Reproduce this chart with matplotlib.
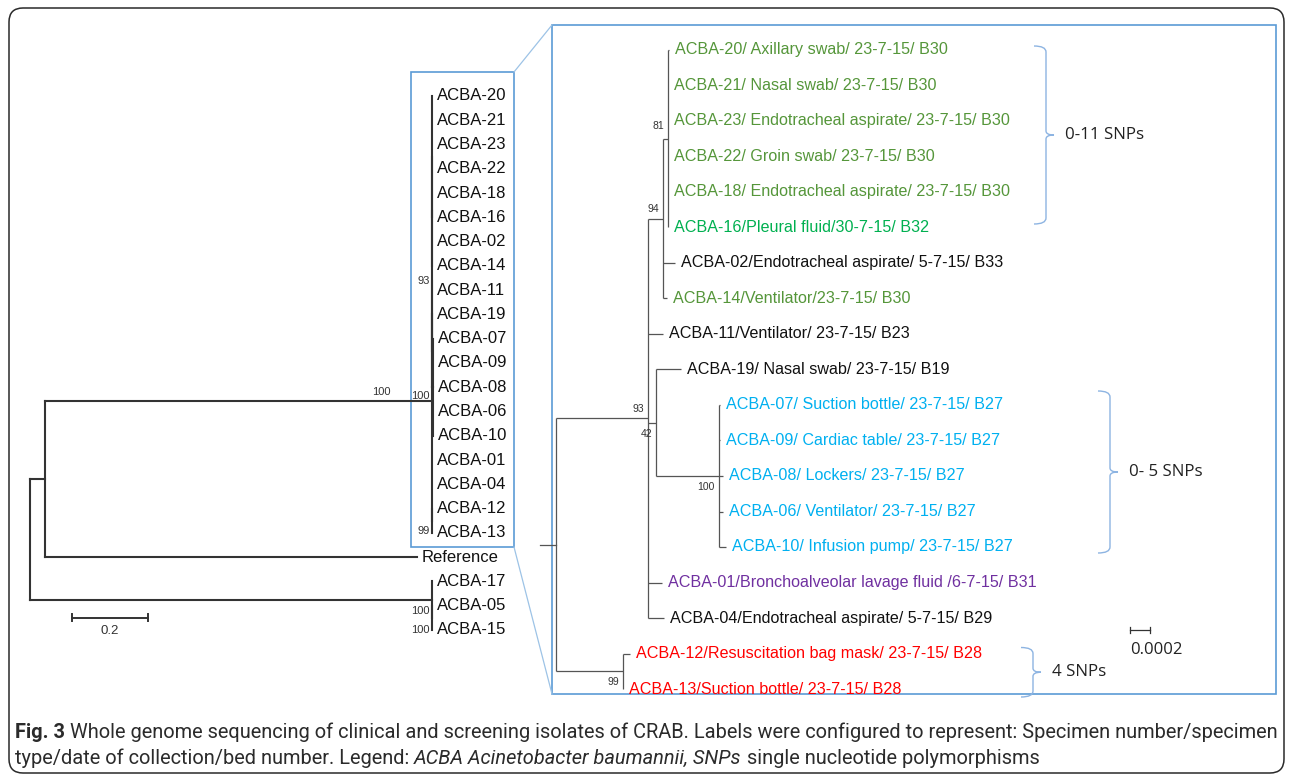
import matplotlib
matplotlib.use("Agg")
import matplotlib.pyplot as plt
from matplotlib.patches import FancyBboxPatch, Rectangle, PathPatch
from matplotlib.path import Path
from matplotlib.collections import LineCollection

W, H = 1292, 780

# overview tree (left), branch lengths in substitutions/site
left_newick = ("((((((ACBA-20:0,ACBA-21:0,ACBA-23:0,ACBA-22:0,ACBA-18:0,ACBA-16:0):0,"
               "ACBA-02:0,ACBA-14:0):0,ACBA-11:0,(ACBA-19:0,(ACBA-07:0,ACBA-09:0,ACBA-08:0,"
               "ACBA-06:0,ACBA-10:0):0.0026):0)93:0,ACBA-01:0,ACBA-04:0,"
               "(ACBA-12:0,ACBA-13:0)99:0)100:1.0184,Reference:0.979):0.0395,"
               "(ACBA-17:0,(ACBA-05:0,ACBA-15:0)100:0)100:1.058);")

# zoomed tree of the ACBA clade (right)
right_newick = ("((((ACBA-20:0.00001,ACBA-21:0,ACBA-23:0,ACBA-22:0,ACBA-18:0,ACBA-16:0)81:0.00005,"
                "ACBA-02:0.00012,ACBA-14:0.00004)94:0.00015,ACBA-11:0.00015,"
                "(ACBA-19:0.00025,(ACBA-07:0.00001,ACBA-09:0.00001,ACBA-08:0.00004,"
                "ACBA-06:0.00004,ACBA-10:0.00007)100:0.00063)42:0.00008,"
                "ACBA-01:0.00014,ACBA-04:0.00016)93:0.00092,"
                "(ACBA-12:0.00007,ACBA-13:0)99:0.00067);")

isolate_info = {
    "ACBA-20": "ACBA-20/ Axillary swab/ 23-7-15/ B30",
    "ACBA-21": "ACBA-21/ Nasal swab/ 23-7-15/ B30",
    "ACBA-23": "ACBA-23/ Endotracheal aspirate/ 23-7-15/ B30",
    "ACBA-22": "ACBA-22/ Groin swab/ 23-7-15/ B30",
    "ACBA-18": "ACBA-18/ Endotracheal aspirate/ 23-7-15/ B30",
    "ACBA-16": "ACBA-16/Pleural fluid/30-7-15/ B32",
    "ACBA-02": "ACBA-02/Endotracheal aspirate/ 5-7-15/ B33",
    "ACBA-14": "ACBA-14/Ventilator/23-7-15/ B30",
    "ACBA-11": "ACBA-11/Ventilator/ 23-7-15/ B23",
    "ACBA-19": "ACBA-19/ Nasal swab/ 23-7-15/ B19",
    "ACBA-07": "ACBA-07/ Suction bottle/ 23-7-15/ B27",
    "ACBA-09": "ACBA-09/ Cardiac table/ 23-7-15/ B27",
    "ACBA-08": "ACBA-08/ Lockers/ 23-7-15/ B27",
    "ACBA-06": "ACBA-06/ Ventilator/ 23-7-15/ B27",
    "ACBA-10": "ACBA-10/ Infusion pump/ 23-7-15/ B27",
    "ACBA-01": "ACBA-01/Bronchoalveolar lavage fluid /6-7-15/ B31",
    "ACBA-04": "ACBA-04/Endotracheal aspirate/ 5-7-15/ B29",
    "ACBA-12": "ACBA-12/Resuscitation bag mask/ 23-7-15/ B28",
    "ACBA-13": "ACBA-13/Suction bottle/ 23-7-15/ B28",
}
ward_green = ["ACBA-20", "ACBA-21", "ACBA-23", "ACBA-22", "ACBA-18", "ACBA-14"]
bright_green = ["ACBA-16"]
cyan_group = ["ACBA-07", "ACBA-09", "ACBA-08", "ACBA-06", "ACBA-10"]
purple_group = ["ACBA-01"]
red_group = ["ACBA-12", "ACBA-13"]

snp_groups = [("ACBA-20", "ACBA-18", "0-11 SNPs"),
              ("ACBA-07", "ACBA-10", "0- 5 SNPs"),
              ("ACBA-12", "ACBA-13", "4 SNPs")]

left_scale = 0.2
right_scale = 0.0002

caption1 = [("Fig. 3", "bold", "normal"),
            (" Whole genome sequencing of clinical and screening isolates of CRAB. Labels were "
             "configured to represent: Specimen number/specimen", "normal", "normal")]
caption2 = [("type/date of collection/bed number. Legend: ", "normal", "normal"),
            ("ACBA Acinetobacter baumannii, SNPs", "normal", "italic"),
            (" single nucleotide polymorphisms", "normal", "normal")]


def parse_newick(s):
    s = s.strip().rstrip(";")
    pos = 0

    def node():
        nonlocal pos
        kids = []
        if s[pos] == "(":
            pos += 1
            while True:
                kids.append(node())
                if s[pos] == ",":
                    pos += 1
                    continue
                pos += 1
                break
        st = pos
        while pos < len(s) and s[pos] not in ",():":
            pos += 1
        label = s[st:pos]
        length = 0.0
        if pos < len(s) and s[pos] == ":":
            pos += 1
            st = pos
            while pos < len(s) and s[pos] not in ",()":
                pos += 1
            length = float(s[st:pos])
        return {"label": label, "length": length, "children": kids}
    return node()


def layout(tree):
    leaves, inner = [], []

    def walk(n, x):
        n["x"] = x + n["length"]
        if not n["children"]:
            n["y"] = len(leaves)
            leaves.append(n)
        else:
            if n["label"]:
                inner.append(n)
            for c in n["children"]:
                walk(c, n["x"])
            n["y"] = (n["children"][0]["y"] + n["children"][-1]["y"]) / 2
    walk(tree, 0.0)
    return leaves, inner


def segments(n, segs):
    kids = n["children"]
    if kids:
        segs.append([(n["x"], kids[0]["y"]), (n["x"], kids[-1]["y"])])
        for c in kids:
            segs.append([(n["x"], c["y"]), (c["x"], c["y"])])
            segments(c, segs)
    return segs


fig = plt.figure(figsize=(W / 100, H / 100), dpi=100)
canvas = fig.add_axes([0, 0, 1, 1])
canvas.set_xlim(0, W)
canvas.set_ylim(H, 0)
canvas.axis("off")


def tree_axes(x0, sx, y0, sy):
    ax = fig.add_axes([0, 0, 1, 1])
    ax.set_xlim(-x0 / sx, (W - x0) / sx)
    ax.set_ylim((H - y0) / sy, -y0 / sy)
    ax.axis("off")
    ax.patch.set_visible(False)
    return ax


# outer frame, zoom boxes and connectors
canvas.add_patch(FancyBboxPatch((9, 8), 1275, 765, boxstyle="round,pad=0,rounding_size=14",
                                fill=False, ec="#2a2a2a", lw=1.1))
BLUE = "#5b9bd5"
canvas.add_patch(Rectangle((411, 72), 103, 475, fill=False, ec=BLUE, lw=1.2))
canvas.add_patch(Rectangle((552, 25), 724, 669, fill=False, ec=BLUE, lw=1.2))
canvas.plot([514, 552], [72, 25], color="#9dc3e6", lw=0.9)
canvas.plot([514, 552], [547, 694], color="#9dc3e6", lw=0.9)

font_tree = ["Liberation Sans", "DejaVu Sans"]
font_snp = ["Open Sans", "DejaVu Sans"]

# ---------------- left tree ----------------
axl = tree_axes(30, 380, 96, 24.27)
lt = parse_newick(left_newick)
l_leaves, l_inner = layout(lt)
axl.add_collection(LineCollection(segments(lt, []), colors="#333333", linewidths=1.5,
                                  capstyle="projecting"))
for lf in l_leaves:
    axl.annotate(lf["label"], (lf["x"], lf["y"]), xytext=(5, 0), textcoords="offset pixels",
                 ha="left", va="center", fontsize=12, family=font_tree, color="#111111")
left_support_dy = [-5, 0, 10, 11, 12]
for n, dy in zip(l_inner, left_support_dy):
    axl.annotate(n["label"], (n["x"], n["y"]), xytext=(-2, -dy), textcoords="offset pixels",
                 ha="right", va="center", fontsize=8, family=font_tree, color="#333333")
# support printed on the long stem of the ingroup
axl.annotate(l_inner[0]["label"], (l_inner[0]["x"], l_inner[0]["y"]), xytext=(-41, 9),
             textcoords="offset pixels", ha="right", va="center", fontsize=8,
             family=font_tree, color="#333333")
# scale bar
sb_x, sb_y = 0.1105, 21.5
axl.plot([sb_x, sb_x + left_scale], [sb_y, sb_y], color="#333333", lw=1.4)
for xx in (sb_x, sb_x + left_scale):
    axl.plot([xx, xx], [sb_y - 0.15, sb_y + 0.15], color="#333333", lw=1.4)
axl.text(sb_x + left_scale / 2, sb_y + 0.55, "0.2", ha="center", va="center", fontsize=9.5,
         family=font_tree, color="#333333")

# ---------------- right tree ----------------
R_X0, R_SX, R_Y0, R_SY = 556, 1e5, 50, 35.5
axr = tree_axes(R_X0, R_SX, R_Y0, R_SY)
rt = parse_newick(right_newick)
r_leaves, r_inner = layout(rt)
axr.add_collection(LineCollection(segments(rt, []), colors="#555555", linewidths=0.9))
axr.plot([-16 / R_SX, 0], [rt["y"], rt["y"]], color="#555555", lw=0.9)


def leaf_color(name):
    if name in ward_green:
        return "#55963a"
    if name in bright_green:
        return "#00b050"
    if name in cyan_group:
        return "#00b0f0"
    if name in purple_group:
        return "#7030a0"
    if name in red_group:
        return "#ff0000"
    return "#111111"


row_of = {}
for lf in r_leaves:
    row_of[lf["label"]] = lf["y"]
    axr.annotate(isolate_info[lf["label"]], (lf["x"], lf["y"]), xytext=(6, 0),
                 textcoords="offset pixels", ha="left", va="center", fontsize=11.6,
                 family=font_tree, color=leaf_color(lf["label"]))
right_support_dy = [-9, -10, -13, 11, 11, 11]
for n, dy in zip(r_inner, right_support_dy):
    axr.annotate(n["label"], (n["x"], n["y"]), xytext=(-4, -dy), textcoords="offset pixels",
                 ha="right", va="center", fontsize=7.5, family=font_tree, color="#333333")

# scale bar
rs_x, rs_y = (1130 - R_X0) / R_SX, 16.34
axr.plot([rs_x, rs_x + right_scale], [rs_y, rs_y], color="#333333", lw=0.9)
for xx in (rs_x, rs_x + right_scale):
    axr.plot([xx, xx], [rs_y - 0.09, rs_y + 0.09], color="#333333", lw=0.9)
axr.text(rs_x, rs_y + 0.56, "0.0002", ha="left", va="center", fontsize=12, family=font_snp,
         color="#222222")

# SNP brackets: "}" shapes drawn on the pixel canvas, rows taken from the right tree
bracket_x = [1046, 1110, 1033]
bracket_pad = [(4, 32), (14, 6), (6, 8)]
for (first, last, lab), bx, (pt, pb) in zip(snp_groups, bracket_x, bracket_pad):
    top = R_Y0 + row_of[first] * R_SY - pt
    bot = R_Y0 + row_of[last] * R_SY + pb
    mid = (top + bot) / 2
    verts = [(bx - 12, top), (bx, top), (bx, top + 6),
             (bx, mid - 4), (bx, mid), (bx + 8, mid),
             (bx + 8, mid), (bx, mid), (bx, mid + 4),
             (bx, bot - 6), (bx, bot), (bx - 12, bot)]
    codes = [Path.MOVETO, Path.CURVE3, Path.CURVE3,
             Path.LINETO, Path.CURVE3, Path.CURVE3,
             Path.MOVETO, Path.CURVE3, Path.CURVE3,
             Path.LINETO, Path.CURVE3, Path.CURVE3]
    canvas.add_patch(PathPatch(Path(verts, codes), fill=False, ec="#8db4e2", lw=1.0))
    canvas.text(bx + 19, mid, lab, ha="left", va="center", fontsize=12.2, family=font_snp,
                color="#222222")

# ---------------- caption ----------------
renderer = fig.canvas.get_renderer()
cap_font = ["Roboto", "DejaVu Sans"]


def run_width(s, size, weight, style):
    t1 = canvas.text(0, 0, s + "|", fontsize=size, weight=weight, style=style, family=cap_font)
    t2 = canvas.text(0, 0, "|", fontsize=size, weight=weight, style=style, family=cap_font)
    w = t1.get_window_extent(renderer).width - t2.get_window_extent(renderer).width
    t1.remove()
    t2.remove()
    return w


base = 10.0
w1 = sum(run_width(s, base, wt, st) for s, wt, st in caption1)
cap_size = base * (1281 - 15) / w1

for runs, y in ((caption1, 732), (caption2, 758)):
    x = 15
    for s, wt, st in runs:
        canvas.text(x, y, s, fontsize=cap_size, weight=wt, style=st, family=cap_font,
                    ha="left", va="center", color="#2b2b2b")
        x += run_width(s, cap_size, wt, st)

fig.savefig("out.png", dpi=100)
